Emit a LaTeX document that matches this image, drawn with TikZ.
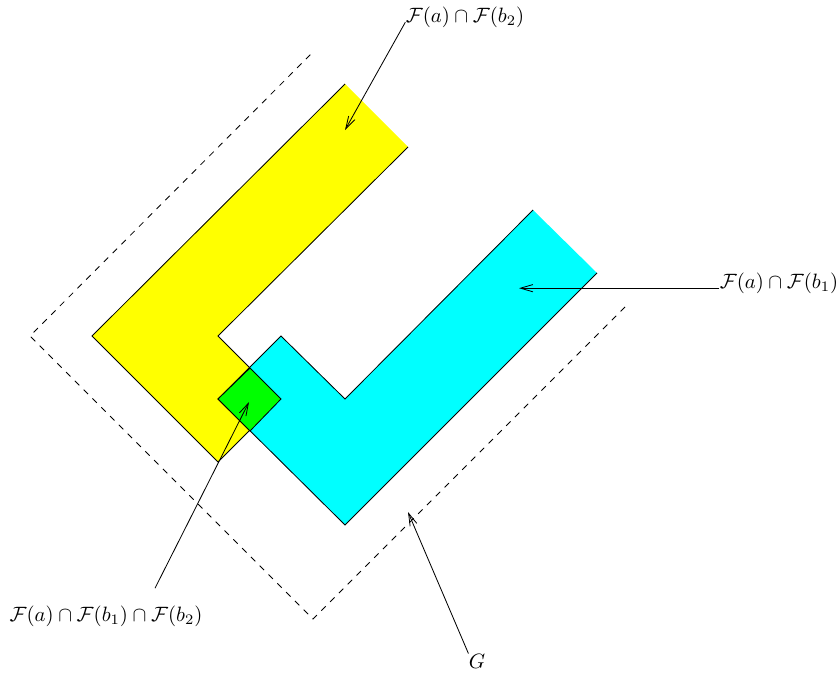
\documentclass[tikz,border=0pt]{standalone}
\usepackage{amsmath,amssymb}
\usepackage{xcolor}
\usepackage{tikz}
\usetikzlibrary{calc,arrows.meta}
\definecolor{ylw}{HTML}{FFFF00}
\definecolor{cyn}{HTML}{00FFFF}
\definecolor{grn}{HTML}{00FF00}
\tikzset{
  ar/.style={-{Straight Barb[length=6pt,width=3.5pt]},thin},
  piece/.style={draw=black,thin},
  lbl/.style={inner sep=0pt}
}
\begin{document}
\begin{tikzpicture}[x=0.482pt,y=-0.482pt]
\useasboundingbox (0,0) rectangle (838,677);
% the set G
\draw[dashed,thin] (625,307)--(313,619)--(30,336)--(313,52);
% the two L pieces (long ends left open) and their overlap
\fill[ylw] (345,84)--(408,147)--(218,336)--(281,399)--(218,462)--(92,336)--cycle;
\draw[piece] (408,147)--(218,336)--(281,399)--(218,462)--(92,336)--(345,84);
\fill[cyn] (533,210)--(597,273)--(345,525)--(218,399)--(281,336)--(345,399)--cycle;
\draw[piece] (597,273)--(345,525)--(218,399)--(281,336)--(345,399)--(533,210);
\filldraw[piece,fill=grn] (250,368)--(281,399)--(250,431)--(218,399)--cycle;
% labels
\node[lbl] (fab2) at (465,17) {$\mathcal{F}(a)\cap\mathcal{F}(b_2)$};
\node[lbl] (fab1) at (779,283) {$\mathcal{F}(a)\cap\mathcal{F}(b_1)$};
\node[lbl] (fall) at (106,616) {$\mathcal{F}(a)\cap\mathcal{F}(b_1)\cap\mathcal{F}(b_2)$};
\node[lbl] (gset) at (477,661) {$G$};
\coordinate (tab2) at (345,130);
\coordinate (tab1) at (519,289);
\coordinate (tall) at (249,402);
\coordinate (tg) at (408,512);
\draw[ar] (fab2.base west)--(tab2);
\draw[ar] (fab1.base west)--(fab1.base west -| tab1);
\draw[ar] ([shift={(49,-17)}]fall.north)--(tall);
\draw[ar] (gset.north west)--(tg);
\end{tikzpicture}
\end{document}
